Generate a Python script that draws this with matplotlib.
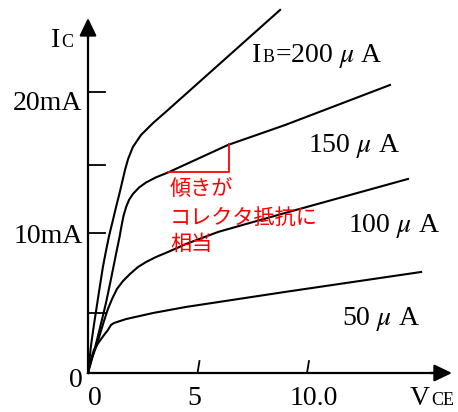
import numpy as np
from matplotlib import pyplot as plt

plt.rcParams['mathtext.fontset'] = 'stix'

# 出力特性 (V_CE [V], I_C [mA]) 図から読み取り
vce_200 = [0, 0.05, 0.14, 0.27, 0.41, 0.55, 0.68, 0.82, 0.96, 1.14, 1.28, 1.42, 1.55, 1.69,
           1.83, 2.05, 2.42, 2.97, 3.65, 6.21, 8.77]
ic_200 = [0, 0.71, 1.99, 3.42, 4.84, 6.26, 7.54, 8.68, 9.75, 10.89, 11.81, 12.67, 13.52, 14.45,
          15.23, 16.09, 16.94, 17.79, 18.72, 22.28, 25.84]

vce_150 = [0, 0.09, 0.23, 0.41, 0.59, 0.82, 1.05, 1.28, 1.44, 1.53, 1.62, 1.74, 1.87, 2.05,
           2.33, 2.65, 3.11, 3.65, 6.39, 9.0, 13.79]
ic_150 = [0, 0.50, 1.28, 2.35, 3.49, 4.98, 6.69, 8.47, 9.68, 10.46, 11.17, 11.81, 12.31, 12.74,
          13.20, 13.56, 13.93, 14.27, 16.23, 17.65, 20.50]

vce_100 = [0, 0.05, 0.18, 0.37, 0.55, 0.73, 0.91, 1.10, 1.32, 1.60, 1.92, 2.28, 2.65, 3.11,
           3.65, 4.47, 5.94, 9.0, 14.61]
ic_100 = [0, 0.36, 1.07, 1.85, 2.78, 3.70, 4.56, 5.27, 5.98, 6.55, 7.05, 7.54, 7.90, 8.26,
          8.61, 9.18, 10.04, 11.39, 13.81]

vce_50 = [0, 0.09, 0.27, 0.50, 0.73, 0.91, 1.05, 1.19, 1.74, 2.97, 4.47, 9.0, 15.21]
ic_50 = [0, 0.78, 1.64, 2.21, 2.70, 3.06, 3.42, 3.56, 3.84, 4.27, 4.70, 5.77, 7.19]

# 傾きを示す三角形
slope_v = [3.65, 6.44, 6.44]
slope_i = [14.31, 14.31, 16.30]

x_ticks = [5, 10]
x_tick_labels = ['0', '5', '10.0']
y_ticks = [4.3, 10, 14.8, 20]
y_tick_labels = ['0', '10mA', '20mA']
ib_labels = ['=200 $\\mu$ A', '150 $\\mu$ A', '100 $\\mu$ A', '50 $\\mu$ A']
note_lines = ['傾きが', 'コレクタ抵抗に', '相当']

SERIF = ['Liberation Serif', 'DejaVu Serif']
JP = ['Noto Sans CJK JP', 'DejaVu Sans']


def draw_axes(ax):
    top = 25.27
    right = 16.62
    ax.plot([0, 0, right - 0.4], [top - 0.6, 0, 0], color='black', lw=1.6,
            solid_joinstyle='miter', solid_capstyle='butt')
    head = dict(arrowstyle='-|>,head_length=0.75,head_width=0.36', mutation_scale=14.4,
                color='black', lw=1.6, shrinkA=0, shrinkB=0)
    ax.annotate('', xy=(0, top), xytext=(0, top - 1.5), arrowprops=head)
    ax.annotate('', xy=(right, 0), xytext=(right - 1.0, 0), arrowprops=head)
    for v in x_ticks:
        ax.plot([v, v + 0.09], [0, 0.85], color='black', lw=1.3)
    for i in y_ticks:
        ax.plot([0, 0.78], [i, i], color='black', lw=1.3)


def draw_labels(ax):
    fs = 20
    sub = 13
    # 軸名
    ax.text(-1.69, 23.2, 'I', fontsize=fs, family=SERIF, va='baseline')
    ax.text(-1.23, 23.2, 'C', fontsize=sub, family=SERIF, va='baseline')
    ax.text(14.70, -2.28, 'V', fontsize=fs, family=SERIF, va='baseline')
    ax.text(15.66, -2.28, 'CE', fontsize=sub, family=SERIF, va='baseline')
    # 目盛ラベル
    for x, lab in zip([0.3, 4.85, 10.3], x_tick_labels):
        ax.text(x, -2.3, lab, fontsize=fs, family=SERIF, ha='center', va='baseline')
    for y, lab in zip([-1.0, 9.25, 18.72], y_tick_labels):
        ax.text(-0.25, y, lab, fontsize=fs, family=SERIF, ha='right', va='baseline')
    # I_B
    ax.text(7.49, 22.14, 'I', fontsize=fs, family=SERIF, va='baseline')
    ax.text(7.95, 22.14, 'B', fontsize=sub, family=SERIF, va='baseline')
    pos = [(8.54, 22.14), (10.05, 15.73), (11.87, 10.04), (11.60, 3.42)]
    for (x, y), lab in zip(pos, ib_labels):
        ax.text(x, y, lab, fontsize=fs, family=SERIF, va='baseline')
    # 注釈
    for y, line in zip([13.10, 11.03, 9.18], note_lines):
        ax.text(3.74, y, line, fontsize=15.2, family=JP, color='red', va='center')


def main():
    fig = plt.figure(figsize=(4.58, 4.12), dpi=100)
    ax = fig.add_axes([0, 0, 1, 1])
    ax.set_xlim(-88 / 21.9, (458 - 88) / 21.9)
    ax.set_ylim(-(412 - 373) / 14.05, 373 / 14.05)
    ax.axis('off')

    for v, i in [(vce_200, ic_200), (vce_150, ic_150), (vce_100, ic_100), (vce_50, ic_50)]:
        ax.plot(v, i, color='black', lw=1.5, solid_joinstyle='round')
    ax.plot(slope_v, slope_i, color='red', lw=1.3)

    draw_axes(ax)
    draw_labels(ax)
    fig.savefig('out.png', dpi=100)


if __name__ == "__main__":
    main()
